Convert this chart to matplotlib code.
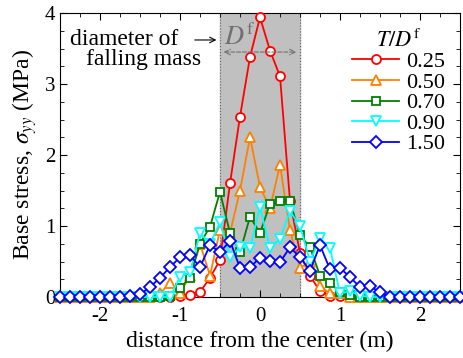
import matplotlib
matplotlib.use('Agg')
from matplotlib import pyplot as plt
from matplotlib.ticker import MultipleLocator

plt.rcParams['font.family'] = 'serif'
plt.rcParams['font.serif'] = ['Liberation Serif', 'DejaVu Serif']
plt.rcParams['mathtext.fontset'] = 'stix'
plt.rcParams['axes.unicode_minus'] = False

# distance from the center (m)
x = [-2.5, -2.375, -2.25, -2.125, -2.0, -1.875, -1.75, -1.625, -1.5, -1.375,
     -1.25, -1.125, -1.0, -0.875, -0.75, -0.625, -0.5, -0.375, -0.25, -0.125,
     0.0, 0.125, 0.25, 0.375, 0.5, 0.625, 0.75, 0.875, 1.0, 1.125,
     1.25, 1.375, 1.5, 1.625, 1.75, 1.875, 2.0, 2.125, 2.25, 2.375, 2.5]

# base stress (MPa) for each T/Df
s025 = [0, 0, 0, 0, 0, 0, 0, 0, 0, 0,
        0, 0, 0.02, 0.03, 0.07, 0.27, 0.52, 1.6, 2.54, 3.38,
        3.94, 3.47, 3.11, 1.35, 0.62, 0.3, 0.08, 0.02, 0.02, 0.02,
        0, 0, 0, 0, 0, 0, 0, 0, 0, 0, 0]
s050 = [0, 0, 0, 0, 0, 0, 0, 0, 0, 0,
        0.05, 0.2, 0.05, 0.3, 0.75, 0.3, 0.95, 0.9, 1.5, 2.25,
        1.55, 1.25, 1.86, 0.94, 0.41, 0.5, 0.15, 0.05, 0.05, 0,
        0, 0, 0, 0, 0, 0, 0, 0, 0, 0, 0]
s070 = [0, 0, 0, 0, 0, 0, 0, 0, 0, 0,
        0, 0.02, 0.13, 0.27, 0.75, 0.99, 1.48, 0.9, 0.63, 1.13,
        0.9, 1.31, 1.35, 1.35, 0.87, 0.7, 0.3, 0.2, 0.07, 0.03,
        0, 0, 0, 0, 0, 0, 0, 0, 0, 0, 0]
s090 = [0, 0, 0, 0, 0, 0, 0, 0, 0, 0,
        0, 0, 0.28, 0.35, 0.9, 0.75, 1.05, 0.56, 0.7, 0.69,
        1.27, 0.69, 0.82, 1.21, 1.0, 0.5, 0.83, 0.69, 0.05, 0.08,
        0.02, 0, 0, 0, 0, 0, 0, 0, 0, 0, 0]
s150 = [0, 0, 0, 0, 0, 0, 0, 0.02, 0.04, 0.14,
        0.27, 0.42, 0.56, 0.59, 0.42, 0.73, 0.63, 0.79, 0.41, 0.42,
        0.55, 0.51, 0.49, 0.7, 0.56, 0.37, 0.73, 0.39, 0.41, 0.28,
        0.14, 0.15, 0.07, 0, 0, 0, 0, 0, 0, 0, 0]

labels = ['0.25', '0.50', '0.70', '0.90', '1.50']
series = [s025, s050, s070, s090, s150]
colors = ['#ff0000', '#ff8000', '#008000', '#00ffff', '#0000ff']
markers = ['o', '^', 's', 'v', 'D']
sizes = [6.5, 7, 6, 7, 6.5]

fig = plt.figure(figsize=(4.64, 3.58), dpi=100)
ax = fig.add_axes([60 / 464, 1 - 297 / 358, 400 / 464, 284 / 358])

ax.axvspan(-0.5, 0.5, color='#c0c0c0', zorder=0)
ax.axvline(-0.5, color='#606060', ls=':', lw=0.8, zorder=1)
ax.axvline(0.5, color='#606060', ls=':', lw=0.8, zorder=1)

for s, lab, c, m, ms in zip(series, labels, colors, markers, sizes):
    ax.plot(x, s, color=c, marker=m, ms=ms, mfc='white', mec=c, mew=1.3,
            lw=1.3, label=lab, clip_on=False, zorder=3)

ax.set_xlim(-2.5, 2.5)
ax.set_ylim(0, 4)
ax.xaxis.set_major_locator(MultipleLocator(1))
ax.xaxis.set_minor_locator(MultipleLocator(0.25))
ax.yaxis.set_major_locator(MultipleLocator(1))
ax.yaxis.set_minor_locator(MultipleLocator(0.25))
ax.tick_params(which='both', direction='in', top=True, right=True, labelsize=15)
ax.tick_params(which='major', length=5)
ax.tick_params(which='minor', length=3)
ax.tick_params(axis='x', pad=7)
ax.set_xlabel('distance from the center (m)', fontsize=17, labelpad=4)
ax.set_ylabel(r'Base stress, $\sigma_{yy}$ (MPa)', fontsize=17, labelpad=4)

# falling mass annotation
ax.text(-1.7, 3.63, 'diameter of', fontsize=17, ha='center', va='center')
ax.text(-1.46, 3.35, 'falling mass', fontsize=17, ha='center', va='center')
ax.annotate('', xy=(-0.51, 3.62), xytext=(-0.85, 3.62),
            arrowprops=dict(arrowstyle='->', color='black', lw=0.8))
ax.text(-0.26, 3.66, r'$D^{\mathrm{f}}$', fontsize=19, color='#707070',
        ha='center', va='center')
ax.annotate('', xy=(0.49, 3.45), xytext=(-0.49, 3.45),
            arrowprops=dict(arrowstyle='<->', color='#707070', lw=0.8, ls='--'))

leg = ax.legend(loc='upper right', bbox_to_anchor=(0.995, 0.99), frameon=False,
                fontsize=16, title=r'$T/D^{\mathrm{f}}$', title_fontsize=16,
                handlelength=2.1, handletextpad=0.3, labelspacing=0.0,
                borderaxespad=0.2)

plt.savefig('out.png', dpi=100)
